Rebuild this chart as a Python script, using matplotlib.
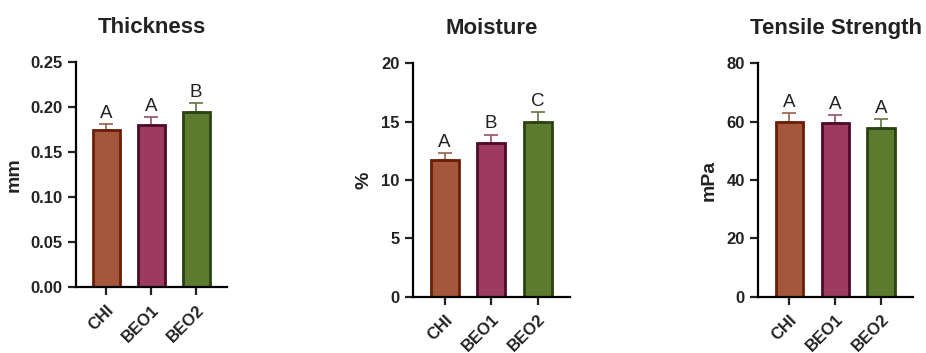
import matplotlib
matplotlib.use("Agg")
import matplotlib.pyplot as plt

plt.rcParams["font.family"] = ["Liberation Sans", "DejaVu Sans"]

# -------------------------
# DATA
# -------------------------
groups = ["CHI", "BEO1", "BEO2"]

thickness = [0.174, 0.180, 0.195]
thickness_err = [0.007, 0.009, 0.010]
thickness_letters = ["A", "A", "B"]

moisture = [11.7, 13.2, 15.0]
moisture_err = [0.6, 0.7, 0.8]
moisture_letters = ["A", "B", "C"]

tensile = [60.0, 59.4, 58.0]
tensile_err = [3.0, 2.9, 2.9]
tensile_letters = ["A", "A", "A"]

fill_colors = ["#A5573D", "#9C3A5F", "#5C7B2F"]
edge_colors = ["#6A1E06", "#4E0B2A", "#2A4211"]
err_colors = ["#9A5E48", "#93506B", "#62743E"]

# -------------------------
# PLOT
# -------------------------
fig = plt.figure(figsize=(9.26, 3.53), dpi=100)

panels = [
    ("Thickness", "mm", thickness, thickness_err, thickness_letters,
     (0, 0.25), [0, 0.05, 0.10, 0.15, 0.20, 0.25], "{:.2f}",
     [0.0821, 0.187, 0.1631, 0.637]),
    ("Moisture", "%", moisture, moisture_err, moisture_letters,
     (0, 20), [0, 5, 10, 15, 20], "{:.0f}",
     [0.446, 0.1595, 0.1695, 0.661]),
    ("Tensile Strength", "mPa", tensile, tensile_err, tensile_letters,
     (0, 80), [0, 20, 40, 60, 80], "{:.0f}",
     [0.8186, 0.1595, 0.1674, 0.661]),
]

for title, ylabel, vals, errs, letters, ylim, yticks, fmt, pos in panels:
    ax = fig.add_axes(pos)
    x = list(range(len(groups)))

    for i in x:
        ax.errorbar(i, vals[i], yerr=[[0], [errs[i]]], fmt="none",
                    ecolor=err_colors[i], elinewidth=1.2, capsize=5,
                    capthick=1.2, zorder=1)
    ax.bar(x, vals, width=0.6, color=fill_colors, edgecolor=edge_colors,
           linewidth=2, zorder=2)

    for i in x:
        ax.annotate(letters[i], xy=(i, vals[i] + errs[i]), xytext=(0, 1.5),
                    textcoords="offset points", ha="center", va="bottom",
                    fontsize=13.5, color="#222222")

    ax.set_xlim(-0.68, 2.69)
    ax.set_ylim(*ylim)
    ax.set_yticks(yticks)
    ax.set_yticklabels([fmt.format(t) for t in yticks], fontweight="bold",
                       fontsize=12)
    ax.set_xticks(x)
    ax.set_xticklabels(groups, rotation=45, ha="right", rotation_mode="anchor",
                       fontweight="bold", fontsize=12)

    ax.spines["top"].set_visible(False)
    ax.spines["right"].set_visible(False)
    ax.spines["left"].set_linewidth(1.6)
    ax.spines["bottom"].set_linewidth(1.6)
    ax.tick_params(axis="both", length=6, width=1.6, color="#222222",
                   labelcolor="#222222")
    ax.tick_params(axis="x", pad=5)

    ax.set_ylabel(ylabel, fontweight="bold", fontsize=14, labelpad=6,
                  color="#222222")
    ax.set_title(title, fontweight="bold", fontsize=16, pad=0, color="#222222",
                 y=1.0 + 29 / (pos[3] * 353))

fig.savefig("out.png", dpi=100)
